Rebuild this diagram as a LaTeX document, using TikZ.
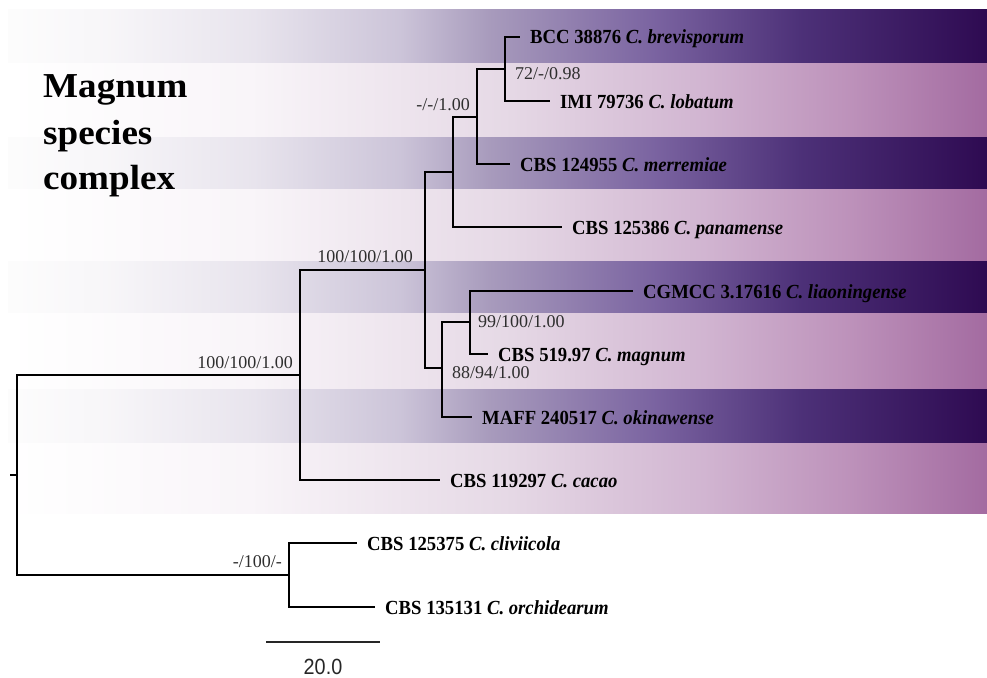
\documentclass[tikz,border=0pt]{standalone}
\usepackage{fontspec}
\setmainfont{Liberation Serif}
\newfontfamily\taxfont{Liberation Serif}[FakeStretch=0.935]
\newfontfamily\bigtitlefont{Liberation Serif}[FakeStretch=1.06]
\newfontfamily\barfont{Liberation Sans}[FakeStretch=0.9]
\pgfdeclarehorizontalshading{darkband}{100bp}{%
 rgb(0bp)=(0.99,0.99,0.99);
 rgb(25bp)=(0.99,0.99,0.99);
 rgb(30bp)=(0.97,0.965,0.975);
 rgb(37.5bp)=(0.91,0.895,0.93);
 rgb(45bp)=(0.80,0.77,0.85);
 rgb(49.5bp)=(0.66,0.61,0.74);
 rgb(58bp)=(0.48,0.39,0.63);
 rgb(65.5bp)=(0.30,0.19,0.47);
 rgb(75bp)=(0.18,0.04,0.32);
 rgb(100bp)=(0.18,0.04,0.32)}
\pgfdeclarehorizontalshading{lightband}{100bp}{%
 rgb(0bp)=(1,1,1);
 rgb(25bp)=(1,1,1);
 rgb(37.5bp)=(0.975,0.96,0.975);
 rgb(50.5bp)=(0.90,0.85,0.90);
 rgb(60.5bp)=(0.82,0.71,0.82);
 rgb(68bp)=(0.74,0.57,0.73);
 rgb(75bp)=(0.64,0.42,0.63);
 rgb(100bp)=(0.64,0.42,0.63)}
\begin{document}
\begin{tikzpicture}[x=1pt,y=-1pt,
  branch/.style={line width=2pt,black,line join=miter},
  taxon/.style={anchor=base west,inner sep=0pt,xshift=10pt,yshift=-7pt,
    font=\taxfont\fontsize{20}{20}\selectfont\bfseries},
  support/.style={inner sep=0pt,text=black!82,font=\fontsize{18}{18}\selectfont},
  bigtitle/.style={anchor=base west,inner sep=0pt,
    font=\bigtitlefont\fontsize{35}{35}\selectfont\bfseries}]
\useasboundingbox (0,0) rectangle (987,677);
% background bands
\foreach \a/\b in {10/64,136/189,260/313,388/443}
  \shade[shading=darkband] (8,\a) rectangle (987,\b);
\foreach \a/\b in {64/136,189/260,313/388,443/513}
  \shade[shading=lightband] (8,\a) rectangle (987,\b);
% title
\node[bigtitle] (mag1) at (43,97) {Magnum};
\node[bigtitle] (mag2) at (43,144) {species};
\node[bigtitle] (mag3) at (43,189) {complex};
% internal nodes
\coordinate (stub) at (10,475);
\coordinate (root) at (17,475);
\coordinate (ing) at (300,375);
\coordinate (na) at (425,270);
\coordinate (nb) at (453,172);
\coordinate (nc) at (477,117);
\coordinate (nd) at (505,69);
\coordinate (ne) at (442,368);
\coordinate (nf) at (470,322);
\coordinate (outg) at (289,575);
% tips
\coordinate (tbrev) at (520,37);
\coordinate (tlob) at (550,101);
\coordinate (tmer) at (510,164);
\coordinate (tpan) at (562,227);
\coordinate (tliao) at (633,291);
\coordinate (tmag) at (488,354);
\coordinate (toki) at (472,417);
\coordinate (tcac) at (440,480);
\coordinate (tcliv) at (357,543);
\coordinate (torch) at (375,607);
% branches
\draw[branch] (stub) -- (root);
\draw[branch] (root) |- (ing);
\draw[branch] (root) |- (outg);
\draw[branch] (ing) |- (na);
\draw[branch] (ing) |- (tcac);
\draw[branch] (na) |- (nb);
\draw[branch] (na) |- (ne);
\draw[branch] (nb) |- (nc);
\draw[branch] (nb) |- (tpan);
\draw[branch] (nc) |- (nd);
\draw[branch] (nc) |- (tmer);
\draw[branch] (nd) |- (tbrev);
\draw[branch] (nd) |- (tlob);
\draw[branch] (ne) |- (nf);
\draw[branch] (ne) |- (toki);
\draw[branch] (nf) |- (tliao);
\draw[branch] (nf) |- (tmag);
\draw[branch] (outg) |- (tcliv);
\draw[branch] (outg) |- (torch);
% taxon labels
\node[taxon] (lbrev) at (tbrev) {BCC 38876 \textit{C. brevisporum}};
\node[taxon] (llob) at (tlob) {IMI 79736 \textit{C. lobatum}};
\node[taxon] (lmer) at (tmer) {CBS 124955 \textit{C. merremiae}};
\node[taxon] (lpan) at (tpan) {CBS 125386 \textit{C. panamense}};
\node[taxon] (lliao) at (tliao) {CGMCC 3.17616 \textit{C. liaoningense}};
\node[taxon] (lmag) at (tmag) {CBS 519.97 \textit{C. magnum}};
\node[taxon] (loki) at (toki) {MAFF 240517 \textit{C. okinawense}};
\node[taxon] (lcac) at (tcac) {CBS 119297 \textit{C. cacao}};
\node[taxon] (lcliv) at (tcliv) {CBS 125375 \textit{C. cliviicola}};
\node[taxon] (lorch) at (torch) {CBS 135131 \textit{C. orchidearum}};
% support values
\node[support,anchor=base east] (sc) at (470,110) {-/-/1.00};
\node[support,anchor=base west] (sd) at (515,79) {72/-/0.98};
\node[support,anchor=base east] (sa) at (413,262) {100/100/1.00};
\node[support,anchor=base east] (sing) at (293,368) {100/100/1.00};
\node[support,anchor=base west] (sf) at (478,327) {99/100/1.00};
\node[support,anchor=base west] (se) at (452,378) {88/94/1.00};
\node[support,anchor=base east] (sout) at (282,567) {-/100/-};
% scale bar
\coordinate (sbl) at (266,642);
\coordinate (sbr) at (380,642);
\draw[line width=2pt,black!85] (sbl) -- (sbr);
\node[inner sep=0pt,anchor=base,text=black!85,font=\barfont\fontsize{22}{22}\selectfont] (sblab) at (323,674) {20.0};
\end{tikzpicture}
\end{document}
